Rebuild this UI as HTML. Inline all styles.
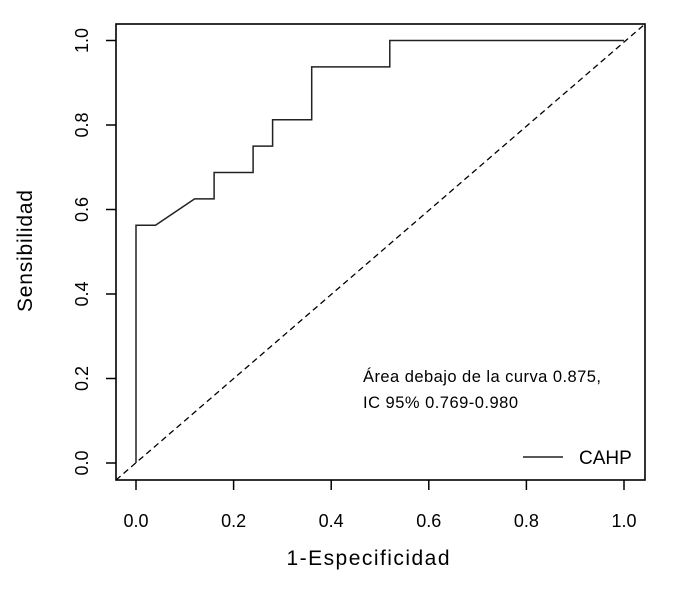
<!DOCTYPE html>
<html><head><meta charset="utf-8"><style>body{margin:0;background:#fff}svg{display:block}</style></head>
<body>
<svg width="685" height="600" viewBox="0 0 685 600" xmlns="http://www.w3.org/2000/svg" font-family="Liberation Sans, sans-serif">
<rect width="685" height="600" fill="#fff"/>
<g id="plot"></g>
</svg>
<script>
const fpr = [0, 0, 0.04, 0.12, 0.16, 0.16, 0.24, 0.24, 0.28, 0.28, 0.36, 0.36, 0.52, 0.52, 1];
const tpr = [0, 0.5625, 0.5625, 0.625, 0.625, 0.6875, 0.6875, 0.75, 0.75, 0.8125, 0.8125, 0.9375, 0.9375, 1, 1];
const xTicks = ["0.0", "0.2", "0.4", "0.6", "0.8", "1.0"];
const yTicks = ["0.0", "0.2", "0.4", "0.6", "0.8", "1.0"];

const NS = "http://www.w3.org/2000/svg";
const g = document.getElementById('plot');
const X = v => 136 + v * 488;
const Y = v => 463 - v * 422.5;
function mk(tag, attrs, parent) {
  const e = document.createElementNS(NS, tag);
  for (const k in attrs) e.setAttribute(k, attrs[k]);
  (parent || g).appendChild(e);
  return e;
}
let e = mk('rect', {x:116, y:24, width:529, height:456, fill:'none', stroke:'#000', 'stroke-width':1.6});


e = mk('line', {x1:116, y1:480, x2:645, y2:24, stroke:'#000', 'stroke-width':1.3, 'stroke-dasharray':'6,4'});


xTicks.forEach(t => {
  const x = X(parseFloat(t));
  let l = mk('line', {x1:x, y1:480, x2:x, y2:490, stroke:'#000', 'stroke-width':1.5});
  
  
  let tx = mk('text', {x:x, y:527, 'font-size':18, 'text-anchor':'middle'});
  tx.textContent = t;
  
  
});
yTicks.forEach(t => {
  const y = Y(parseFloat(t));
  let l = mk('line', {x1:106, y1:y, x2:116, y2:y, stroke:'#000', 'stroke-width':1.5});
  
  
  let tx = mk('text', {x:0, y:0, 'font-size':18, 'text-anchor':'middle', transform:`translate(88,${y}) rotate(-90)`});
  tx.textContent = t;
  
  
});
const pts = fpr.map((f, i) => X(f).toFixed(1) + ',' + Y(tpr[i]).toFixed(1)).join(' ');
e = mk('polyline', {points:pts, fill:'none', stroke:'#222', 'stroke-width':1.5});


e = mk('text', {x:368, y:565, 'font-size':21, 'text-anchor':'middle', textLength:163});
e.textContent = '1-Especificidad';


e = mk('text', {x:0, y:0, 'font-size':21, 'text-anchor':'middle', textLength:122, transform:'translate(32,251) rotate(-90)'});
e.textContent = 'Sensibilidad';


e = mk('text', {x:363, y:382, 'font-size':16.5, textLength:238});
e.textContent = 'Área debajo de la curva 0.875,';


e = mk('text', {x:363, y:408, 'font-size':16.5, textLength:155});
e.textContent = 'IC 95% 0.769-0.980';


e = mk('line', {x1:523, y1:457, x2:563, y2:457, stroke:'#222', 'stroke-width':1.4});


e = mk('text', {x:579, y:464, 'font-size':19});
e.textContent = 'CAHP';


</script>
</body></html>
